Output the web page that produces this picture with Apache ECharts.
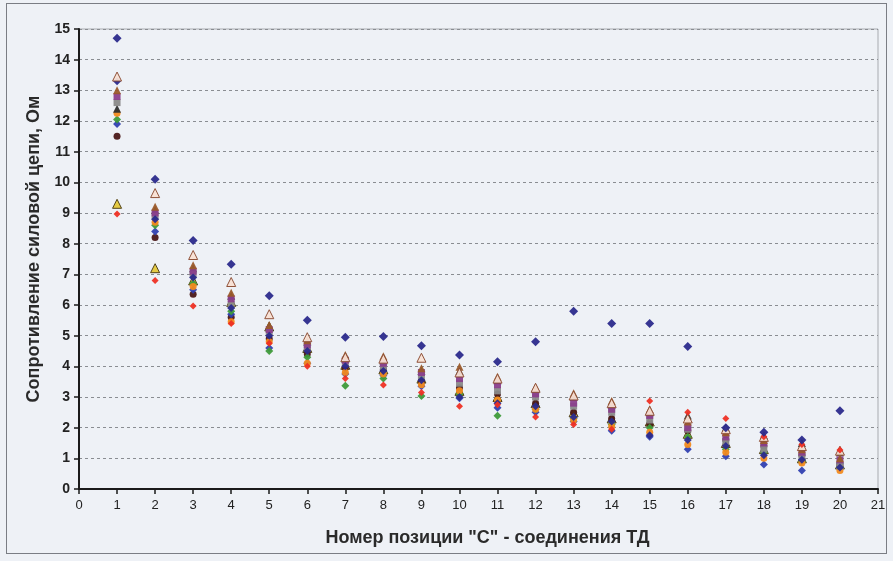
<!DOCTYPE html>
<html>
<head>
<meta charset="utf-8">
<script src="https://cdn.jsdelivr.net/npm/echarts@6/dist/echarts.min.js"></script>
<style>
html,body{margin:0;padding:0;background:#eef1f6;}
#c{width:893px;height:561px;}
#frame{position:absolute;left:6px;top:3px;width:879px;height:549px;border:1px solid #7a7d84;pointer-events:none;}
</style>
</head>
<body>
<div id="c"></div>
<div id="frame"></div>
<script>
const positions = [1,2,3,4,5,6,7,8,9,10,11,12,13,14,15,16,17,18,19,20];
const xTicks = [0,1,2,3,4,5,6,7,8,9,10,11,12,13,14,15,16,17,18,19,20,21];
const yTicks = [0,1,2,3,4,5,6,7,8,9,10,11,12,13,14,15];

const navyTop    = [14.7,10.1,8.1,7.33,6.3,5.5,4.95,4.97,4.67,4.37,4.15,4.8,5.8,5.4,5.4,4.65,2.0,1.85,1.6,2.55];
const pinkTri    = [13.45,9.65,7.63,6.75,5.7,4.95,4.3,4.25,4.28,3.8,3.6,3.3,3.05,2.8,2.55,2.3,1.95,1.7,1.4,1.25];
const brownTri   = [13.0,9.2,7.3,6.4,5.35,4.85,4.37,4.33,3.94,3.99,3.66,3.33,3.12,2.87,2.6,2.2,1.85,1.6,1.3,1.0];
const navyMid    = [13.3,8.8,6.9,5.9,5.0,4.5,4.0,3.85,3.55,3.0,2.8,2.7,2.35,2.2,1.75,1.6,1.4,1.1,0.95,0.7];
const purpleSq   = [12.8,9.0,7.1,6.2,5.2,4.7,4.2,4.1,3.8,3.6,3.4,3.1,2.8,2.6,2.4,2.0,1.7,1.5,1.2,0.95];
const graySq     = [12.6,8.9,7.0,6.0,5.1,4.6,4.1,4.0,3.7,3.45,3.2,3.0,2.7,2.5,2.25,1.95,1.55,1.3,1.05,0.75];
const darkTri    = [12.4,9.1,7.2,6.3,5.3,4.8,4.25,4.2,3.85,3.85,3.55,3.25,3.0,2.75,2.5,2.4,2.0,1.75,1.5,1.2];
const orangeCirc = [12.25,8.7,6.6,5.45,4.8,4.1,3.8,3.75,3.4,3.2,2.9,2.6,2.25,2.05,1.85,1.45,1.2,1.0,0.85,0.6];
const greenDia   = [12.05,8.6,6.7,5.8,4.5,4.3,3.37,3.6,3.03,3.1,2.39,2.6,2.3,2.1,2.0,1.7,1.3,1.2,0.9,0.7];
const blueDia    = [11.9,8.4,6.5,5.7,4.6,4.1,3.75,3.7,3.35,2.96,2.65,2.5,2.2,1.9,1.7,1.3,1.07,0.8,0.6,0.85];
const brownCirc  = [11.5,8.2,6.35,5.6,4.9,4.4,3.95,3.9,3.5,3.3,3.1,2.8,2.5,2.3,2.1,1.9,1.6,1.4,1.1,0.8];
const yellowTri  = [9.3,7.2,6.8,6.1,5.3,4.6,4.05,3.9,3.6,3.2,3.0,2.8,2.5,2.3,2.2,1.8,1.5,1.3,1.0,0.8];
const redDia     = [8.97,6.8,5.97,5.4,4.75,4.0,3.6,3.39,3.15,2.7,2.75,2.35,2.1,1.95,2.87,2.5,2.3,1.7,1.45,1.27];

function pts(vals){ return positions.map((p,i)=>[p, vals[i]]); }

const seriesDefs = [
  {name:'s1', data:yellowTri, symbol:'triangle', size:9, color:'#e4c83a', border:'#4a3a10', bw:1},
  {name:'s2', data:brownCirc, symbol:'circle', size:7, color:'#4a1818'},
  {name:'s3', data:blueDia, symbol:'diamond', size:8, color:'#3040b0'},
  {name:'s4', data:greenDia, symbol:'diamond', size:8, color:'#3e9a3a'},
  {name:'s5', data:orangeCirc, symbol:'circle', size:7, color:'#f28a1e'},
  {name:'s6', data:darkTri, symbol:'triangle', size:8, color:'#2e2e2e'},
  {name:'s7', data:graySq, symbol:'rect', size:7, color:'#8a8a8a'},
  {name:'s8', data:purpleSq, symbol:'rect', size:7, color:'#8a3f8c'},
  {name:'s9', data:navyMid, symbol:'diamond', size:8, color:'#2b2a8c'},
  {name:'s10', data:brownTri, symbol:'triangle', size:8, color:'#9a5a2a'},
  {name:'s11', data:pinkTri, symbol:'triangle', size:9, color:'#f8e0d4', border:'#8a4a30', bw:1},
  {name:'s12', data:redDia, symbol:'diamond', size:7, color:'#ee3024'},
  {name:'s13', data:navyTop, symbol:'diamond', size:9, color:'#2b2a8c'}
];

const chart = echarts.init(document.getElementById('c'), null, {renderer:'canvas'});
chart.setOption({
  backgroundColor:'transparent',
  animation:false,
  grid:{left:79, right:15, top:29, bottom:72, show:true, borderColor:'#a8abb0', borderWidth:1, backgroundColor:'transparent'},
  xAxis:{
    type:'value', min:xTicks[0], max:xTicks[xTicks.length-1], interval:1,
    name:'Номер позиции "С" - соединения ТД', nameLocation:'middle', nameGap:40,
    nameTextStyle:{fontFamily:'Liberation Sans', fontWeight:'bold', fontSize:18, color:'#2a2a2a', padding:[0,0,0,18]},
    axisLine:{onZero:false, lineStyle:{color:'#1a1a1a', width:2}},
    axisTick:{show:true, length:5, lineStyle:{color:'#1a1a1a', width:1.5}},
    axisLabel:{fontFamily:'Liberation Sans', fontSize:13, color:'#222', margin:10},
    splitLine:{show:false}
  },
  yAxis:{
    type:'value', min:yTicks[0], max:yTicks[yTicks.length-1], interval:1,
    name:'Сопротивление силовой цепи, Ом', nameLocation:'middle', nameGap:36,
    nameTextStyle:{fontFamily:'Liberation Sans', fontWeight:'bold', fontSize:18, color:'#2a2a2a', padding:[0,0,0,20]},
    axisLine:{onZero:false, lineStyle:{color:'#1a1a1a', width:2}},
    axisTick:{show:true, length:5, lineStyle:{color:'#1a1a1a', width:1.5}},
    axisLabel:{fontFamily:'Liberation Sans', fontSize:14, fontWeight:'bold', color:'#222', margin:9},
    splitLine:{show:true, lineStyle:{color:'#8a8d92', type:[3,3], width:1}}
  },
  series: seriesDefs.map(d=>({
    type:'scatter', name:d.name, data:pts(d.data), symbol:d.symbol, symbolSize:d.size,
    itemStyle:{color:d.color, borderColor:d.border||d.color, borderWidth:d.bw||0, opacity:0.95}
  }))
});
</script>
</body>
</html>
